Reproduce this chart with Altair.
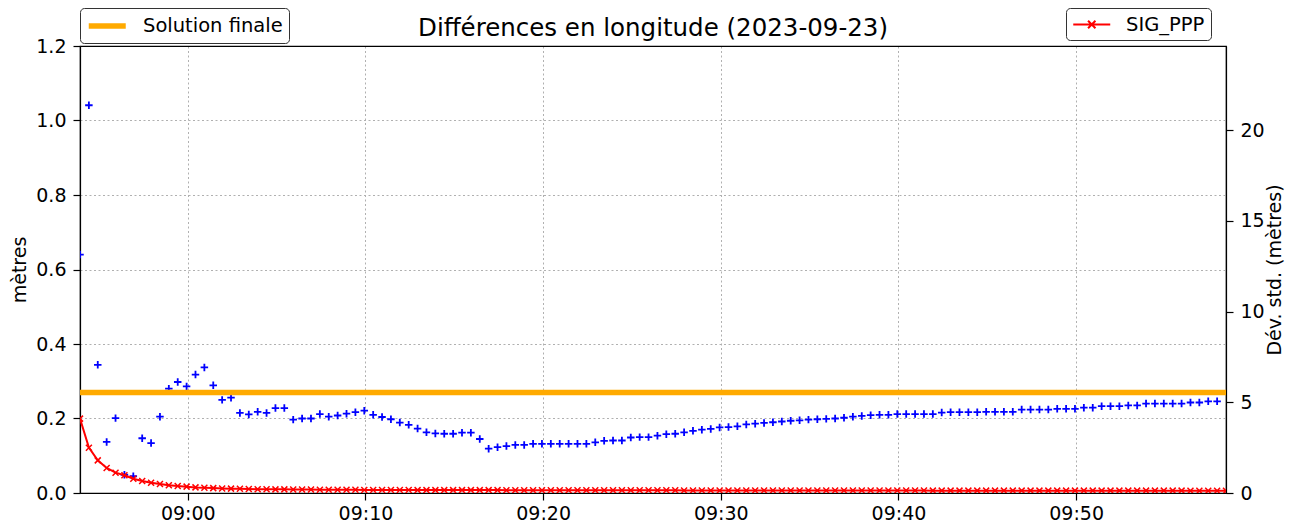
import altair as alt
import pandas as pd

# ---------------- data ----------------
start_time = "2023-09-23 08:53:56"
sample_step = "30s"

diff_longitude = [
    0.640, 1.041, 0.344, 0.137, 0.201, 0.049, 0.045, 0.147, 0.134, 0.205,
    0.280, 0.298, 0.286, 0.318, 0.337, 0.289, 0.250, 0.256, 0.215, 0.211,
    0.218, 0.215, 0.228, 0.228, 0.197, 0.200, 0.200, 0.212, 0.205, 0.208,
    0.213, 0.217, 0.221, 0.210, 0.204, 0.198, 0.189, 0.183, 0.173, 0.163,
    0.160, 0.159, 0.159, 0.162, 0.162, 0.145, 0.119, 0.123, 0.126, 0.129,
    0.129, 0.132, 0.132, 0.132, 0.132, 0.132, 0.132, 0.132, 0.136, 0.140,
    0.141, 0.141, 0.149, 0.150, 0.150, 0.154, 0.158, 0.159, 0.163, 0.167,
    0.170, 0.172, 0.176, 0.177, 0.179, 0.184, 0.186, 0.188, 0.190, 0.192,
    0.194, 0.195, 0.197, 0.198, 0.199, 0.200, 0.202, 0.205, 0.207, 0.209,
    0.210, 0.210, 0.212, 0.212, 0.212, 0.212, 0.212, 0.216, 0.217, 0.217,
    0.217, 0.217, 0.218, 0.218, 0.218, 0.218, 0.224, 0.224, 0.224, 0.224,
    0.226, 0.226, 0.226, 0.229, 0.229, 0.233, 0.233, 0.233, 0.235, 0.235,
    0.240, 0.240, 0.240, 0.240, 0.240, 0.243, 0.243, 0.246, 0.246,
]

sig_ppp = [
    4.10, 2.50, 1.80, 1.38, 1.12, 0.98, 0.79, 0.66, 0.57, 0.50,
    0.43, 0.39, 0.35, 0.31, 0.29, 0.27, 0.25, 0.24, 0.23, 0.22,
    0.21, 0.21, 0.20, 0.20, 0.19, 0.19, 0.19, 0.18, 0.18, 0.18,
    0.18, 0.18, 0.17, 0.17, 0.17, 0.17, 0.17, 0.17, 0.16, 0.16,
    0.16, 0.16, 0.16, 0.16, 0.16, 0.16, 0.16, 0.16, 0.15, 0.15,
    0.15, 0.15, 0.15, 0.15, 0.15, 0.15, 0.15, 0.15, 0.15, 0.15,
    0.15, 0.15, 0.15, 0.15, 0.15, 0.15, 0.15, 0.15, 0.14, 0.14,
    0.14, 0.14, 0.14, 0.14, 0.14, 0.14, 0.14, 0.14, 0.14, 0.14,
    0.14, 0.14, 0.14, 0.14, 0.14, 0.14, 0.14, 0.14, 0.14, 0.14,
    0.14, 0.14, 0.14, 0.14, 0.14, 0.14, 0.13, 0.13, 0.13, 0.13,
    0.13, 0.13, 0.13, 0.13, 0.13, 0.13, 0.13, 0.13, 0.13, 0.13,
    0.13, 0.13, 0.13, 0.13, 0.13, 0.13, 0.13, 0.13, 0.13, 0.13,
    0.13, 0.13, 0.13, 0.13, 0.13, 0.12, 0.12, 0.12, 0.12, 0.12,
]

solution_finale = [0.2695]
x_tick_minutes = [(9, 0), (9, 10), (9, 20), (9, 30), (9, 40), (9, 50)]
left_ticks = [0.0, 0.2, 0.4, 0.6, 0.8, 1.0, 1.2]
right_ticks = [0, 5, 10, 15, 20]
right_max = 24.65

FONT = "DejaVu Sans"

times_sig = pd.date_range(start_time, periods=len(sig_ppp), freq=sample_step)
times_diff = times_sig[: len(diff_longitude)]

df_diff = pd.DataFrame({"t": list(times_diff.strftime("%Y-%m-%dT%H:%M:%S")), "v": diff_longitude})
df_sig = pd.DataFrame({"t": list(times_sig.strftime("%Y-%m-%dT%H:%M:%S")), "s": sig_ppp,
                       "lbl": ["SIG_PPP"] * len(sig_ppp)})
df_sol = pd.DataFrame({"v": solution_finale, "lbl": ["Solution finale"]})


def dt(h, m, s=0):
    return alt.DateTime(year=2023, month=9, date=23, hours=h, minutes=m, seconds=s)


x_domain = [dt(8, 53, 56), dt(9, 58, 26)]
x_values = [dt(h, m) for h, m in x_tick_minutes]
x_scale = alt.Scale(domain=x_domain, nice=False)

x_bottom = alt.X(
    "t:T", scale=x_scale,
    axis=alt.Axis(format="%H:%M", values=x_values, orient="bottom",
                  title=None, labelAngle=0, grid=True, labelPadding=4),
)
x_top = alt.X(
    "t:T", scale=x_scale,
    axis=alt.Axis(orient="top", title=None, labels=False, ticks=False,
                  grid=False, domain=True, values=x_values),
)

y_left = alt.Y(
    "v:Q",
    scale=alt.Scale(domain=[0, 1.2], nice=False, zero=False),
    axis=alt.Axis(orient="left", values=left_ticks, format=".1f", title="mètres",
                  grid=True, labelPadding=7, titlePadding=6),
)

y_right = alt.Y(
    "s:Q",
    scale=alt.Scale(domain=[0, right_max], nice=False, zero=False),
    axis=alt.Axis(orient="right", values=right_ticks, format="d",
                  title="Dév. std. (mètres)", grid=False, labelPadding=7,
                  titleAngle=270, titlePadding=20),
)

# symbol: line of 4 units starting at -1, drawn with r = sqrt(size)/2 = 9.25 px -> 37 px
legend_common = dict(
    title=None, orient="none", legendY=-38,
    symbolSize=342, labelFontSize=19.5, labelFont=FONT, labelColor="black",
    labelOffset=33, labelLimit=400, padding=6,
    strokeColor="#333333", cornerRadius=4, fillColor="white",
)

blue_pts = alt.Chart(df_diff).mark_point(
    shape="M-1,0L1,0M0,-1L0,1", filled=False, size=56, strokeWidth=1.8,
    color="#0000FF", opacity=1, clip=True,
).encode(x=x_bottom, y=y_left)

sol_rule = alt.Chart(df_sol).mark_rule(strokeWidth=5.5).encode(
    y=alt.Y("v:Q", scale=alt.Scale(domain=[0, 1.2], nice=False, zero=False)),
    color=alt.Color(
        "lbl:N",
        scale=alt.Scale(domain=["Solution finale"], range=["#FFAA00"]),
        legend=alt.Legend(legendX=0, symbolType="M-1,0L3,0", symbolStrokeWidth=5.5,
                          **legend_common),
    ),
)

red_line = alt.Chart(df_sig).mark_line(strokeWidth=2, clip=True).encode(
    x=x_top,
    y=y_right,
    color=alt.Color(
        "lbl:N",
        scale=alt.Scale(domain=["SIG_PPP"], range=["#FF0000"]),
        legend=alt.Legend(
            legendX=986,
            symbolType="M-1,0L3,0M0.6,-0.4L1.4,0.4M0.6,0.4L1.4,-0.4",
            symbolStrokeWidth=2, **legend_common),
    ),
)

red_pts = alt.Chart(df_sig).mark_point(
    shape="M-1,-1L1,1M-1,1L1,-1", filled=False, size=36, strokeWidth=1.5,
    color="#FF0000", opacity=1, clip=True,
).encode(x=x_top, y=y_right)

left = alt.layer(blue_pts, sol_rule)
right = alt.layer(red_line, red_pts)

chart = (
    alt.layer(left, right)
    .resolve_scale(y="independent", color="independent")
    .resolve_axis(x="independent")
    .properties(
        width=1146,
        height=447,
        autosize=alt.AutoSizeParams(type="none"),
        padding={"left": 72, "top": 38, "right": 60, "bottom": 34},
        title=alt.Title("Différences en longitude (2023-09-23)", fontSize=24.5,
                        font=FONT, fontWeight="normal", anchor="middle",
                        offset=-34, color="black"),
    )
    .configure_view(stroke="black", strokeWidth=1.2)
    .configure_axis(
        labelFont=FONT, titleFont=FONT, labelFontSize=19, titleFontSize=19,
        titleFontWeight="normal", labelColor="black", titleColor="black",
        domainColor="black", tickColor="black", tickSize=7, domainWidth=1.2,
        tickWidth=1.2, gridColor="#b0b0b0", gridDash=[2, 2.5], gridWidth=1,
    )
)

chart.save("out.html", embed_options={"renderer": "svg", "actions": False})
